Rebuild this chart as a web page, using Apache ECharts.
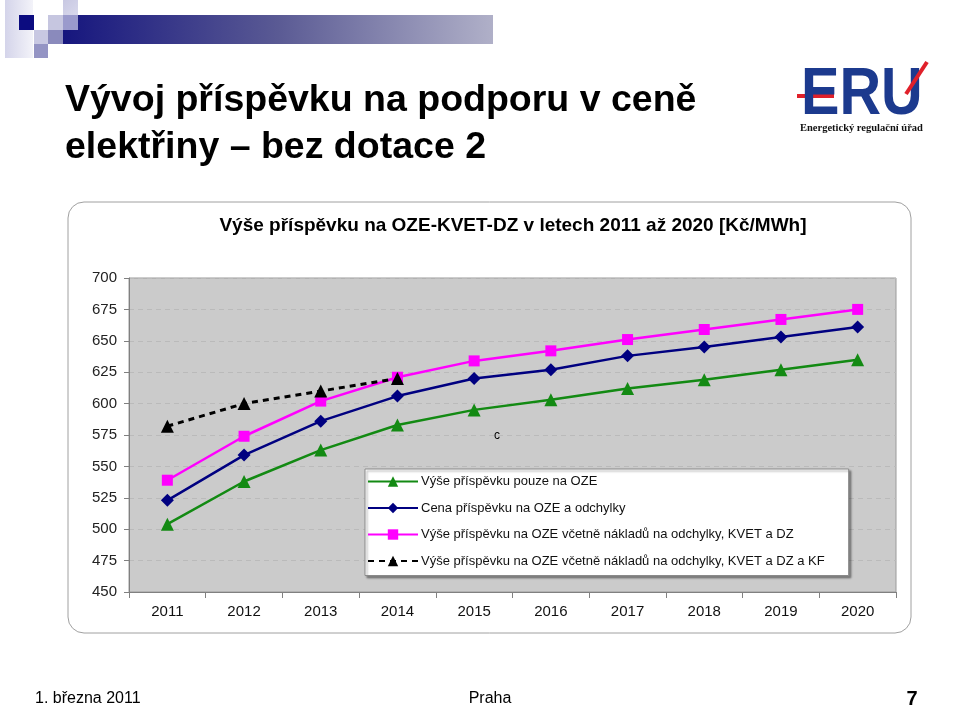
<!DOCTYPE html>
<html>
<head>
<meta charset="utf-8">
<script src="https://cdn.jsdelivr.net/npm/echarts@6/dist/echarts.min.js"></script>
<style>
html,body{margin:0;padding:0;background:#fff;}
#chart{width:960px;height:708px;}
</style>
</head>
<body>
<div id="chart"></div>
<script>
var years = ['2011','2012','2013','2014','2015','2016','2017','2018','2019','2020'];
var yTicks = {min: 450, max: 700, step: 25};
var seriesNames = [
  'Výše příspěvku pouze na OZE',
  'Cena příspěvku na OZE a odchylky',
  'Výše příspěvku na OZE včetně nákladů na odchylky, KVET a DZ',
  'Výše příspěvku na OZE včetně nákladů na odchylky, KVET a DZ a KF'
];
var ozeOnly = [504, 538, 563, 583, 595, 603, 612, 619, 627, 635];
var ozeOdchylky = [523, 559, 586, 606, 620, 627, 638, 645, 653, 661];
var ozeKvetDz = [539, 574, 602, 621, 634, 642, 651, 659, 667, 675];
var ozeKvetDzKf = [582, 600, 610, 620, null, null, null, null, null, null];

var FONT = '"Liberation Sans", Arial, sans-serif';
var chart = echarts.init(document.getElementById('chart'), null, {renderer: 'canvas'});

function sq(x, y, w, h, fill) {
  return {type: 'rect', z: -5, shape: {x: x, y: y, width: w, height: h}, style: {fill: fill}, silent: true};
}

var option = {
  backgroundColor: '#ffffff',
  animation: false,
  textStyle: {fontFamily: FONT},
  grid: {
    left: 129, right: 64, top: 278, bottom: 116,
    show: true, backgroundColor: '#cbcbcb', borderColor: '#9a9a9a', borderWidth: 1
  },
  xAxis: {
    type: 'category',
    data: years,
    boundaryGap: true,
    axisLine: {show: true, lineStyle: {color: '#808080', width: 1}},
    axisTick: {show: true, alignWithLabel: false, length: 6, lineStyle: {color: '#808080'}},
    axisLabel: {color: '#111', fontSize: 15, margin: 12, fontFamily: FONT},
    splitLine: {show: false}
  },
  yAxis: {
    type: 'value',
    min: yTicks.min, max: yTicks.max, interval: yTicks.step,
    axisLine: {show: true, lineStyle: {color: '#808080', width: 1}},
    axisTick: {show: true, length: 5, lineStyle: {color: '#808080'}},
    axisLabel: {color: '#222', fontSize: 15, margin: 12, fontFamily: FONT},
    splitLine: {show: true, lineStyle: {color: '#bababa', type: [5, 4], width: 1}}
  },
  legend: {
    orient: 'vertical',
    left: 365, top: 469,
    padding: [6, 24, 8, 2],
    itemWidth: 50, itemHeight: 13, itemGap: 13.5,
    backgroundColor: '#ffffff',
    borderColor: '#8a8a8a', borderWidth: 1,
    shadowColor: 'rgba(0,0,0,0.35)', shadowBlur: 2, shadowOffsetX: 2, shadowOffsetY: 2,
    textStyle: {fontSize: 13, color: '#111', fontFamily: FONT, padding: [0, 0, 0, -2]},
    data: seriesNames
  },
  series: [
    {
      name: seriesNames[0], type: 'line', data: ozeOnly,
      symbol: 'triangle', symbolSize: 13,
      lineStyle: {color: '#138a13', width: 2.5},
      itemStyle: {color: '#138a13'}
    },
    {
      name: seriesNames[1], type: 'line', data: ozeOdchylky,
      symbol: 'diamond', symbolSize: 13,
      lineStyle: {color: '#000080', width: 2.5},
      itemStyle: {color: '#000080'}
    },
    {
      name: seriesNames[2], type: 'line', data: ozeKvetDz,
      symbol: 'rect', symbolSize: 11,
      lineStyle: {color: '#ff00ff', width: 2.5},
      itemStyle: {color: '#ff00ff'}
    },
    {
      name: seriesNames[3], type: 'line', data: ozeKvetDzKf,
      symbol: 'triangle', symbolSize: 13,
      connectNulls: false,
      lineStyle: {color: '#000000', width: 3, type: [6, 5]},
      itemStyle: {color: '#000000'}
    }
  ],
  graphic: [
    // decoration top-left
    {type: 'rect', z: -5, silent: true, shape: {x: 5, y: 0, width: 28, height: 58},
     style: {fill: new echarts.graphic.LinearGradient(0, 0, 1, 0, [{offset: 0, color: '#d4d4ea'}, {offset: 1, color: '#f3f3f9'}])}},
    sq(19, 15, 15, 15, '#0c0c80'),
    {type: 'rect', z: -5, silent: true, shape: {x: 63, y: 0, width: 15, height: 15},
     style: {fill: new echarts.graphic.LinearGradient(0, 0, 1, 1, [{offset: 0, color: '#c8c8e2'}, {offset: 1, color: '#d8d8ec'}])}},
    sq(48, 15, 15, 15, '#c6c6e0'),
    sq(34, 30, 14, 14, '#c8c8e2'),
    sq(48, 30, 15, 14, '#8a8abc'),
    sq(34, 44, 14, 14, '#9494c4'),
    {type: 'rect', z: -5, silent: true, shape: {x: 63, y: 15, width: 430, height: 29},
     style: {fill: new echarts.graphic.LinearGradient(0, 0, 1, 0, [
       {offset: 0, color: '#16167e'}, {offset: 0.5, color: '#5a5a94'}, {offset: 1, color: '#b0b0c8'}])}},
    sq(63, 15, 15, 15, '#9a9acc'),
    // main title
    {type: 'text', z: 5, left: 65, top: 82, silent: true,
     style: {text: 'Vývoj příspěvku na podporu v ceně', fontSize: 37.5, fontWeight: 'bold', fill: '#000', fontFamily: FONT}},
    {type: 'text', z: 5, left: 65, top: 129, silent: true,
     style: {text: 'elektřiny – bez dotace 2', fontSize: 37.5, fontWeight: 'bold', fill: '#000', fontFamily: FONT}},
    // logo
    {type: 'text', z: 5, silent: true, x: 801, y: 62, scaleX: 0.86,
     style: {text: 'ERU', fontSize: 67, fontWeight: 'bold', fill: '#1c3a8e', fontFamily: FONT}},
    sq(797, 94, 37, 4, '#e0202a'),
    {type: 'line', z: 6, silent: true, shape: {x1: 906, y1: 94, x2: 927, y2: 62},
     style: {stroke: '#e0202a', lineWidth: 4}},
    {type: 'text', z: 5, silent: true, x: 800, y: 123,
     style: {text: 'Energetický regulační úřad', fontSize: 10.5, fontWeight: 'bold', fill: '#111', fontFamily: '"Liberation Serif", "Times New Roman", serif'}},
    // chart box
    {type: 'rect', z: -10, silent: true, shape: {x: 68, y: 202, width: 843, height: 431, r: 16},
     style: {fill: '#ffffff', stroke: '#a0a0a0', lineWidth: 1}},
    // chart title
    {type: 'text', z: 5, silent: true, x: 513, y: 226,
     style: {text: 'Výše příspěvku na OZE-KVET-DZ v letech 2011 až 2020 [Kč/MWh]', fontSize: 19, fontWeight: 'bold',
       fill: '#000', fontFamily: FONT, align: 'center', verticalAlign: 'middle'}},
    // stray label
    {type: 'text', z: 5, silent: true, x: 497, y: 436,
     style: {text: 'c', fontSize: 12, fill: '#000', fontFamily: FONT, align: 'center', verticalAlign: 'middle'}},
    // footer
    {type: 'text', z: 5, silent: true, x: 35, y: 699,
     style: {text: '1. března 2011', fontSize: 16, fill: '#000', fontFamily: FONT, verticalAlign: 'middle'}},
    {type: 'text', z: 5, silent: true, x: 490, y: 699,
     style: {text: 'Praha', fontSize: 16, fill: '#000', fontFamily: FONT, align: 'center', verticalAlign: 'middle'}},
    {type: 'text', z: 5, silent: true, x: 912, y: 699,
     style: {text: '7', fontSize: 20, fontWeight: 'bold', fill: '#000', fontFamily: FONT, align: 'center', verticalAlign: 'middle'}}
  ]
};
chart.setOption(option);
</script>
</body>
</html>
